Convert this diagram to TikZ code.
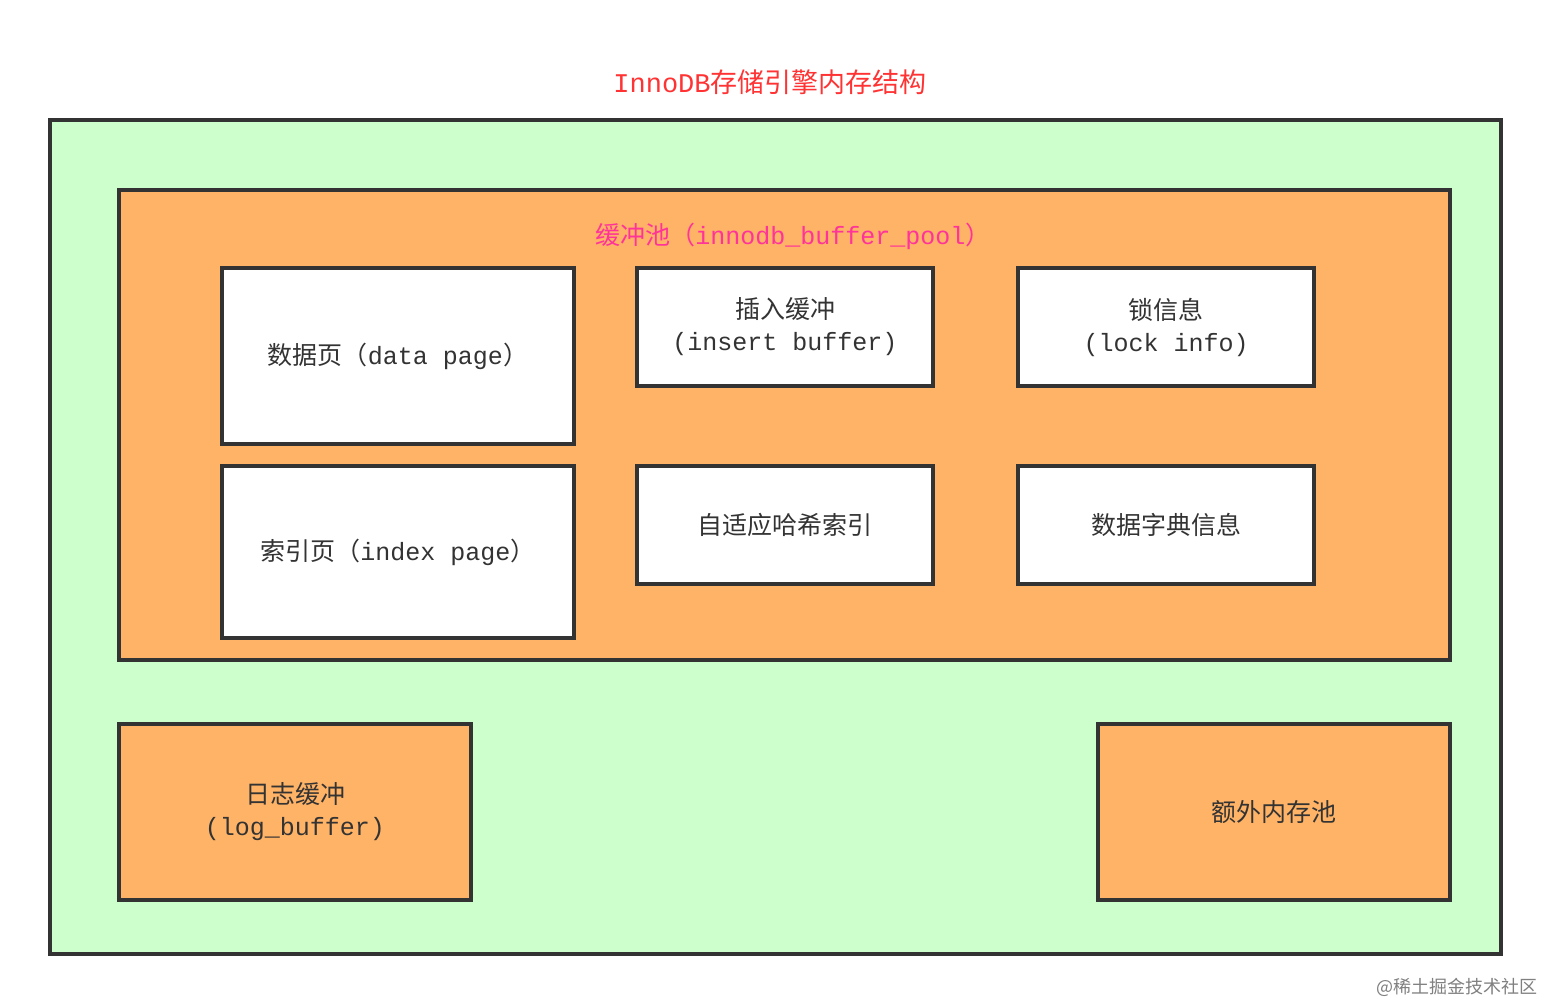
\documentclass[tikz,border=0pt]{standalone}
\usepackage{fontspec}
\setmainfont{Noto Sans CJK SC}
\newfontfamily\mono{Liberation Mono}
\definecolor{gfill}{HTML}{CCFFCC}
\definecolor{ofill}{HTML}{FFB366}
\definecolor{edge}{HTML}{333333}
\definecolor{tred}{HTML}{FF3333}
\definecolor{tpink}{HTML}{FF3399}
\tikzset{
  box/.style={draw=edge,line width=1.6pt},
  lbl/.style={text=edge,font=\fontsize{12.5}{16}\selectfont,align=center},
}
\begin{document}
\begin{tikzpicture}[x=0.5pt,y=-0.5pt]
\useasboundingbox (0,0) rectangle (1550,1004);
\fill[white] (0,0) rectangle (1550,1004);
\draw[box,fill=gfill] (50,120) rectangle (1501,954);
\draw[box,fill=ofill] (119,190) rectangle (1450,660);
\node[text=tred,font=\fontsize{13.5}{16}\selectfont] (title) at (770,82) {{\mono InnoDB}存储引擎内存结构};
\node[text=tpink,font=\fontsize{12.5}{16}\selectfont] (pool) at (793,236) {缓冲池（{\mono innodb\_buffer\_pool}）};
\draw[box,fill=white] (222,268) rectangle (574,444) node[midway,lbl] (dp) {数据页（{\mono data page}）};
\draw[box,fill=white] (222,466) rectangle (574,638) node[midway,lbl] (ip) {索引页（{\mono index page}）};
\draw[box,fill=white] (637,268) rectangle (933,386) node[midway,lbl] (ib) {插入缓冲\\{\mono (insert buffer)}};
\draw[box,fill=white] (637,466) rectangle (933,584) node[midway,lbl] (ah) {自适应哈希索引};
\draw[box,fill=white] (1018,268) rectangle (1314,386) node[midway,lbl] (li) {锁信息\\{\mono (lock info)}};
\draw[box,fill=white] (1018,466) rectangle (1314,584) node[midway,lbl] (dd) {数据字典信息};
\draw[box,fill=ofill] (119,724) rectangle (471,900) node[midway,lbl] (lb) {日志缓冲\\{\mono (log\_buffer)}};
\draw[box,fill=ofill] (1098,724) rectangle (1450,900) node[midway,lbl] (em) {额外内存池};
\node[text=gray,font=\fontsize{9}{11}\selectfont,anchor=east] (wm) at (1545,987) {@稀土掘金技术社区};
\end{tikzpicture}
\end{document}
